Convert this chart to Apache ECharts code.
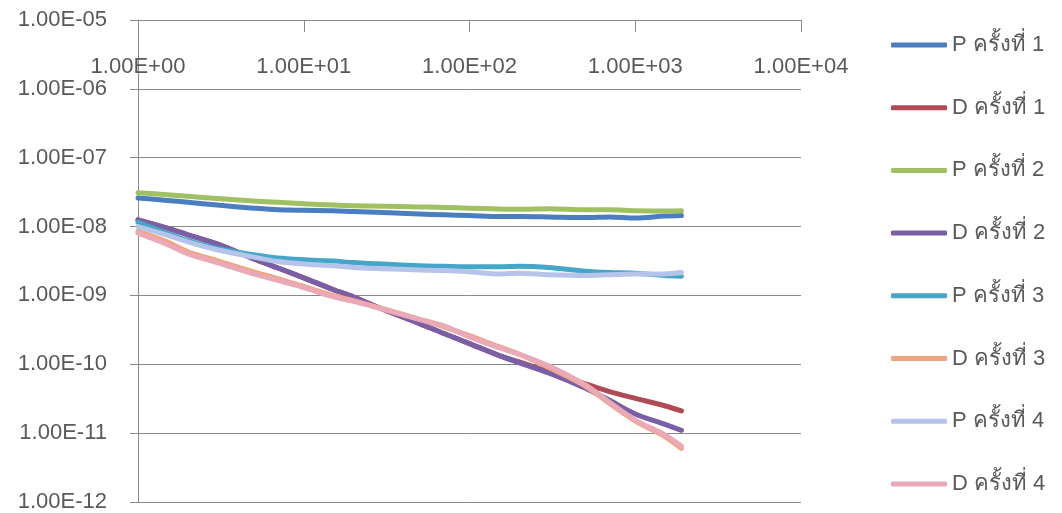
<!DOCTYPE html>
<html>
<head>
<meta charset="utf-8">
<script src="https://cdn.jsdelivr.net/npm/echarts@6/dist/echarts.min.js"></script>
<style>
html,body{margin:0;padding:0;background:#fff;}
#chart{width:1062px;height:513px;}
</style>
</head>
<body>
<div id="chart"></div>
<script>
// x values (time) shared by all series
const xValues = [1, 1.5, 2, 3, 5, 7, 10, 15, 20, 30, 50, 70, 100, 150, 200, 300, 500, 700, 1000, 1500, 1900];

const seriesNames = ["P ครั้งที่ 1", "D ครั้งที่ 1", "P ครั้งที่ 2", "D ครั้งที่ 2", "P ครั้งที่ 3", "D ครั้งที่ 3", "P ครั้งที่ 4", "D ครั้งที่ 4"];

const P1 = [2.6e-8, 2.4e-8, 2.25e-8, 2.05e-8, 1.85e-8, 1.75e-8, 1.72e-8, 1.7e-8, 1.65e-8, 1.6e-8, 1.52e-8, 1.48e-8, 1.45e-8, 1.4e-8, 1.4e-8, 1.38e-8, 1.35e-8, 1.38e-8, 1.33e-8, 1.42e-8, 1.45e-8];
const D1 = [1.25e-8, 9.5e-9, 7.6e-9, 5.6e-9, 3.4e-9, 2.5e-9, 1.8e-9, 1.22e-9, 9.5e-10, 6.3e-10, 3.9e-10, 2.8e-10, 2.0e-10, 1.35e-10, 1.08e-10, 7.8e-11, 5.2e-11, 4.0e-11, 3.2e-11, 2.5e-11, 2.1e-11];
const P2 = [3.1e-8, 2.9e-8, 2.75e-8, 2.55e-8, 2.35e-8, 2.25e-8, 2.15e-8, 2.05e-8, 2.0e-8, 1.97e-8, 1.93e-8, 1.9e-8, 1.85e-8, 1.8e-8, 1.78e-8, 1.82e-8, 1.75e-8, 1.75e-8, 1.7e-8, 1.68e-8, 1.7e-8];
const D2 = [1.25e-8, 9.5e-9, 7.6e-9, 5.6e-9, 3.4e-9, 2.5e-9, 1.8e-9, 1.22e-9, 9.5e-10, 6.3e-10, 3.9e-10, 2.8e-10, 2.0e-10, 1.35e-10, 1.05e-10, 7.5e-11, 4.5e-11, 3.0e-11, 1.9e-11, 1.35e-11, 1.1e-11];
const P3 = [1.15e-8, 8.0e-9, 6.3e-9, 4.8e-9, 3.9e-9, 3.5e-9, 3.3e-9, 3.15e-9, 3.0e-9, 2.85e-9, 2.7e-9, 2.65e-9, 2.6e-9, 2.6e-9, 2.65e-9, 2.55e-9, 2.25e-9, 2.15e-9, 2.1e-9, 1.95e-9, 1.9e-9];
const D3 = [8.5e-9, 6.0e-9, 4.3e-9, 3.2e-9, 2.2e-9, 1.75e-9, 1.35e-9, 1.0e-9, 8.4e-10, 6.4e-10, 4.5e-10, 3.5e-10, 2.6e-10, 1.8e-10, 1.4e-10, 9.0e-11, 4.8e-11, 2.7e-11, 1.5e-11, 9.0e-12, 6.0e-12];
const P4 = [1.0e-8, 7.5e-9, 6.0e-9, 4.6e-9, 3.6e-9, 3.1e-9, 2.85e-9, 2.7e-9, 2.55e-9, 2.45e-9, 2.35e-9, 2.3e-9, 2.2e-9, 2.05e-9, 2.1e-9, 2.0e-9, 1.95e-9, 2.0e-9, 2.05e-9, 2.05e-9, 2.15e-9];
const D4 = [8.0e-9, 5.5e-9, 4.0e-9, 3.0e-9, 2.05e-9, 1.65e-9, 1.3e-9, 9.6e-10, 8.2e-10, 6.3e-10, 4.5e-10, 3.6e-10, 2.5e-10, 1.75e-10, 1.4e-10, 9.5e-11, 5.0e-11, 2.8e-11, 1.55e-11, 9.5e-12, 6.5e-12];

const seriesValues = [P1, D1, P2, D2, P3, D3, P4, D4];
const colors = ["#4A7EC0", "#B04A55", "#A0C064", "#7A5FA6", "#45A6C8", "#F2A582", "#B6C3EA", "#E9A9B6"];

// tick labels indexed by decade exponent
const xTickLabels = {0: "1.00E+00", 1: "1.00E+01", 2: "1.00E+02", 3: "1.00E+03", 4: "1.00E+04"};
const yTickLabels = {"-5": "1.00E-05", "-6": "1.00E-06", "-7": "1.00E-07", "-8": "1.00E-08", "-9": "1.00E-09", "-10": "1.00E-10", "-11": "1.00E-11", "-12": "1.00E-12"};

const chart = echarts.init(document.getElementById('chart'));
const textColor = '#595959';
const lineColor = '#8a8a8a';
const font = '"Liberation Sans", "Noto Sans", sans-serif';

chart.setOption({
  animation: false,
  backgroundColor: '#ffffff',
  grid: {left: 138, right: 261, top: 20, bottom: 11, containLabel: false},
  legend: {
    orient: 'vertical',
    left: 886,
    top: 29,
    itemWidth: 56,
    itemHeight: 5,
    itemGap: 40.7,
    icon: 'roundRect',
    textStyle: {color: textColor, fontSize: 22, lineHeight: 22, fontFamily: font, fontWeight: 'normal'},
    data: seriesNames.map((n, i) => ({name: n, icon: 'roundRect', itemStyle: {color: colors[i]}}))
  },
  xAxis: {
    type: 'log',
    logBase: 10,
    min: 1,
    max: 10000,
    position: 'top',
    axisLine: {show: true, lineStyle: {color: lineColor, width: 1}},
    axisTick: {show: true, inside: true, length: 12, lineStyle: {color: lineColor}},
    minorTick: {show: false},
    splitLine: {show: false},
    axisLabel: {
      inside: true,
      margin: 36,
      color: textColor,
      fontSize: 22,
      fontFamily: font,
      formatter: v => xTickLabels[Math.round(Math.log10(v))] || ''
    }
  },
  yAxis: {
    type: 'log',
    logBase: 10,
    min: 1e-12,
    max: 1e-5,
    splitNumber: 7,
    axisLine: {show: true, lineStyle: {color: lineColor, width: 1}},
    axisTick: {show: true, inside: false, length: 8, lineStyle: {color: lineColor}},
    splitLine: {show: true, lineStyle: {color: lineColor, width: 1}},
    axisLabel: {
      margin: 31,
      color: textColor,
      fontSize: 22,
      fontFamily: font,
      formatter: v => yTickLabels[String(Math.round(Math.log10(v)))] || ''
    }
  },
  series: seriesNames.map((n, i) => ({
    name: n,
    type: 'line',
    showSymbol: false,
    symbol: 'none',
    smooth: 0.3,
    color: colors[i],
    lineStyle: {width: 5, color: colors[i], cap: 'round', join: 'round'},
    data: xValues.map((x, k) => [x, seriesValues[i][k]])
  }))
});
</script>
</body>
</html>
